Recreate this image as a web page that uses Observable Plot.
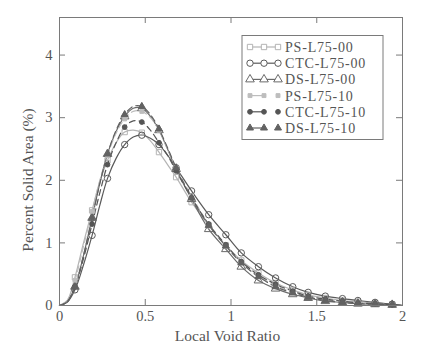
<!DOCTYPE html>
<html><head><meta charset="utf-8">
<script src="https://cdn.jsdelivr.net/npm/d3@7"></script>
<script src="https://cdn.jsdelivr.net/npm/@observablehq/plot@0.6"></script>
<style>body{margin:0;background:#fff}</style>
</head><body><div id="chart"></div>
<script>
// ---- data ----
const xs = [0, 0.045, 0.09, 0.14, 0.19, 0.235, 0.28, 0.33, 0.38, 0.43, 0.48, 0.53, 0.58, 0.63, 0.68, 0.77, 0.87, 0.97, 1.06, 1.16, 1.26, 1.36, 1.45, 1.55, 1.65, 1.74, 1.84, 1.94, 2.0];
const markerXs = [0.09, 0.19, 0.28, 0.38, 0.48, 0.58, 0.68, 0.77, 0.87, 0.97, 1.06, 1.16, 1.26, 1.36, 1.45, 1.55, 1.65, 1.74, 1.84, 1.94];
const psL7500  = [0, 0.08, 0.45, 1.0, 1.52, 1.98, 2.32, 2.6, 2.77, 2.8, 2.76, 2.63, 2.45, 2.25, 2.05, 1.65, 1.28, 0.96, 0.72, 0.52, 0.36, 0.25, 0.17, 0.12, 0.08, 0.06, 0.04, 0.02, 0];
const ctcL7500 = [0, 0.05, 0.25, 0.65, 1.12, 1.6, 2.03, 2.35, 2.57, 2.69, 2.72, 2.67, 2.57, 2.4, 2.2, 1.83, 1.45, 1.13, 0.84, 0.62, 0.44, 0.3, 0.21, 0.15, 0.11, 0.08, 0.05, 0.02, 0];
const dsL7500  = [0, 0.06, 0.3, 0.8, 1.4, 1.95, 2.42, 2.78, 3.02, 3.15, 3.15, 3.02, 2.8, 2.5, 2.18, 1.7, 1.22, 0.9, 0.62, 0.4, 0.27, 0.18, 0.12, 0.07, 0.05, 0.03, 0.02, 0.01, 0];
const psL7510  = [0, 0.08, 0.4, 0.95, 1.5, 2.0, 2.4, 2.75, 2.98, 3.1, 3.1, 3.0, 2.8, 2.5, 2.2, 1.75, 1.3, 0.95, 0.68, 0.47, 0.32, 0.21, 0.14, 0.09, 0.06, 0.04, 0.03, 0.01, 0];
const ctcL7510 = [0, 0.06, 0.3, 0.75, 1.3, 1.8, 2.25, 2.6, 2.85, 2.95, 2.93, 2.8, 2.6, 2.4, 2.15, 1.72, 1.3, 0.97, 0.7, 0.49, 0.34, 0.23, 0.15, 0.1, 0.07, 0.04, 0.03, 0.01, 0];
const dsL7510  = [0, 0.06, 0.3, 0.8, 1.4, 1.95, 2.42, 2.8, 3.05, 3.18, 3.18, 3.05, 2.82, 2.52, 2.2, 1.72, 1.28, 0.95, 0.68, 0.46, 0.3, 0.2, 0.13, 0.08, 0.05, 0.03, 0.02, 0.01, 0];
const seriesNames = ["PS-L75-00", "CTC-L75-00", "DS-L75-00", "PS-L75-10", "CTC-L75-10", "DS-L75-10"];
const xTicks = [0, 0.5, 1, 1.5, 2];
const yTicks = [0, 1, 2, 3, 4];

// ---- styles ----
const styles = [
  {y: psL7500,  color: "#b4b4b4", symbol: "square",   filled: false, dash: null,  r: 3.0},
  {y: ctcL7500, color: "#5a5a5a", symbol: "circle",   filled: false, dash: null,  r: 3.2},
  {y: dsL7500,  color: "#6a6a6a", symbol: "triangle", filled: false, dash: null,  r: 3.2},
  {y: psL7510,  color: "#bdbdbd", symbol: "square",   filled: true,  dash: "6,4", r: 2.2},
  {y: ctcL7510, color: "#555555", symbol: "circle",   filled: true,  dash: "6,4", r: 2.4},
  {y: dsL7510,  color: "#626262", symbol: "triangle", filled: true,  dash: "6,4", r: 2.6}
];

const W = 437, H = 355, mL = 59, mR = 35, mT = 17, mB = 50;
const pw = W - mL - mR, ph = H - mT - mB;
const tickLen = 6;
const axisColor = "#7a7a7a", textColor = "#555";

const rows = styles.flatMap((s, k) => xs.map((x, i) => ({series: seriesNames[k], x, y: s.y[i]})));

const marks = [
  Plot.ruleX(xTicks, {x: d => d, insetTop: ph - tickLen, stroke: axisColor}),
  Plot.ruleX(xTicks, {x: d => d, insetBottom: ph - tickLen, stroke: axisColor}),
  Plot.ruleY(yTicks, {y: d => d, insetRight: pw - tickLen, stroke: axisColor}),
  Plot.ruleY(yTicks, {y: d => d, insetLeft: pw - tickLen, stroke: axisColor}),
  Plot.axisX(xTicks, {tickSize: 0, tickPadding: 5, tickFormat: d => String(d), label: null, fill: textColor}),
  Plot.axisY(yTicks, {tickSize: 0, tickPadding: 7, tickFormat: d => String(d), label: null, fill: textColor})
];
styles.forEach((s, k) => {
  const data = rows.filter(d => d.series === seriesNames[k]);
  marks.push(Plot.line(data, {x: "x", y: "y", curve: "catmull-rom", stroke: s.color, strokeWidth: 1.2, strokeDasharray: s.dash}));
});
styles.forEach((s, k) => {
  const data = rows.filter(d => d.series === seriesNames[k] && markerXs.includes(d.x));
  marks.push(Plot.dot(data, {x: "x", y: "y", symbol: s.symbol, r: s.r, stroke: s.color, strokeWidth: 1, fill: s.filled ? s.color : "none"}));
});
marks.push(Plot.frame({stroke: axisColor}));

const svg = Plot.plot({
  width: W, height: H,
  marginLeft: mL, marginRight: mR, marginTop: mT, marginBottom: mB,
  x: {domain: [0, 2]},
  y: {domain: [0, 4.6]},
  style: {fontFamily: "'Liberation Serif', 'Times New Roman', serif", fontSize: "14.5px", color: textColor, background: "#fff"},
  marks
});
document.getElementById("chart").append(svg);

// ---- titles & legend ----
const g = d3.select(svg);
const serif = "'Liberation Serif', 'Times New Roman', serif";
g.append("text").attr("x", mL + pw / 2 - 3).attr("y", 341)
  .attr("text-anchor", "middle").attr("font-family", serif).attr("font-size", 15.5)
  .attr("fill", textColor).text("Local Void Ratio");
g.append("text").attr("transform", "translate(33,180) rotate(-90)")
  .attr("text-anchor", "middle").attr("font-family", serif).attr("font-size", 15.5)
  .attr("fill", textColor).text("Percent Solid Area (%)");

const lg = g.append("g");
const lx = 242, ly = 35.5, lw = 141, lh = 104, rowH = 16.2;
lg.append("rect").attr("x", lx).attr("y", ly).attr("width", lw).attr("height", lh)
  .attr("fill", "white").attr("stroke", axisColor);
const symMap = {square: d3.symbolSquare, circle: d3.symbolCircle, triangle: d3.symbolTriangle};
styles.forEach((s, k) => {
  const cy = ly + 11.5 + k * rowH;
  const x0 = lx + 8, x1 = lx + 22, x2 = lx + 36;
  lg.append("line").attr("x1", x0).attr("x2", s.dash ? x1 : x2).attr("y1", cy).attr("y2", cy)
    .attr("stroke", s.color).attr("stroke-width", 1.2);
  [x0, x1, x2].forEach(px => {
    lg.append("path").attr("transform", `translate(${px},${cy})`)
      .attr("d", d3.symbol(symMap[s.symbol], Math.PI * s.r * s.r)())
      .attr("stroke", s.color).attr("fill", s.filled ? s.color : "white");
  });
  lg.append("text").attr("x", lx + 43).attr("y", cy).attr("dy", "0.35em")
    .attr("text-anchor", "start").attr("letter-spacing", 0.8)
    .attr("font-family", serif).attr("font-size", 14).attr("fill", textColor)
    .text(seriesNames[k]);
});
</script>
</body></html>
